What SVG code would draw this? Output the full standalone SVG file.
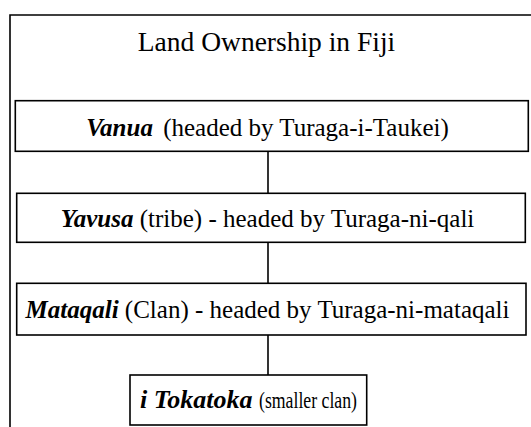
<svg xmlns="http://www.w3.org/2000/svg" width="531" height="427" viewBox="0 0 531 427">
<style>
.box{fill:#fff;stroke:#000;stroke-width:1.6}
.frame{fill:none;stroke:#000;stroke-width:1.6}
.t{font-family:"Liberation Serif","Times New Roman",serif;font-size:25px;fill:#000;text-anchor:middle}
.ts{font-family:"Liberation Serif","Times New Roman",serif;font-size:26px;fill:#000}
.b{font-weight:bold;font-style:italic}
.title{font-family:"Liberation Serif","Times New Roman",serif;font-size:27.5px;fill:#000;text-anchor:middle}
.c{stroke:#000;stroke-width:1.6;fill:none}
</style>
<rect width="531" height="427" fill="#fff"/>
<g id="frame">
<path class="frame" d="M10,427 V15 H531"/>
<text class="title" x="266.5" y="50.5">Land Ownership in Fiji</text>
</g>
<g id="connectors">
<line class="c" x1="268" y1="151.3" x2="268" y2="193.3"/>
<line class="c" x1="268" y1="242.3" x2="268" y2="283.3"/>
<line class="c" x1="268" y1="335" x2="268" y2="375"/>
</g>
<g id="vanua">
<rect class="box" x="15.3" y="100.7" width="513" height="50.6"/>
<text class="t" x="267.5" y="136"><tspan class="b">Vanua</tspan><tspan dx="4"> (headed by Turaga-i-Taukei)</tspan></text>
</g>
<g id="yavusa">
<rect class="box" x="16.7" y="193.3" width="508.6" height="49"/>
<text class="t" x="267.5" y="226.7"><tspan class="b">Yavusa</tspan> (tribe) - headed by Turaga-ni-qali</text>
</g>
<g id="mataqali">
<rect class="box" x="16.7" y="283.3" width="509.3" height="51.7"/>
<text class="t" x="267.5" y="318.3"><tspan class="b">Mataqali</tspan> (Clan) - headed by Turaga-ni-mataqali</text>
</g>
<g id="tokatoka">
<rect class="box" x="130" y="375" width="236.7" height="50"/>
<text class="ts" x="140" y="408"><tspan class="b">i Tokatoka</tspan><tspan x="259" font-size="24" textLength="98" lengthAdjust="spacingAndGlyphs">(smaller clan)</tspan></text>
</g>
</svg>
